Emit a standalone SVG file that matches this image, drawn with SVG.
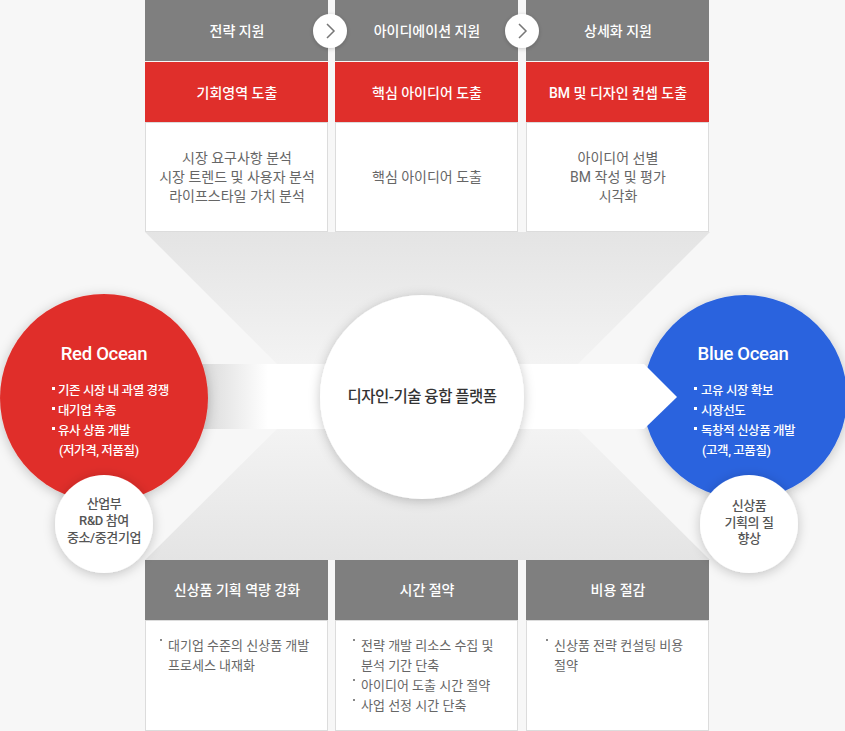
<svg xmlns="http://www.w3.org/2000/svg" width="845" height="731" viewBox="0 0 845 731">
<defs>
<style>
text{font-family:Roboto,"Noto Sans CJK KR","Liberation Sans",sans-serif;dominant-baseline:central}
.hd{fill:#fff;font-size:14px;font-weight:500;text-anchor:middle}
.rd{fill:#fff;font-size:14px;font-weight:500;text-anchor:middle}
.bd{fill:#666;font-size:14px;text-anchor:middle}
.bl{fill:#666;font-size:13px}
.ct{fill:#fff;font-size:18.5px;font-weight:500;text-anchor:middle;letter-spacing:-0.3px}
.cb{fill:#fff;font-size:12.5px;font-weight:500;letter-spacing:-0.4px}
.sm{fill:#555;font-size:13px;font-weight:500;text-anchor:middle;letter-spacing:-0.4px}
.gray{fill:#7f7f7f}
.red{fill:#e02f2b}
.wbox{fill:#fff;stroke:#dcdcdc;stroke-width:1}
.bw{fill:#fff}
.bg2{fill:#888}
</style>
<linearGradient id="funTop" x1="0" y1="232" x2="0" y2="364" gradientUnits="userSpaceOnUse">
<stop offset="0" stop-color="#e4e4e4"/><stop offset="1" stop-color="#f3f3f3"/>
</linearGradient>
<linearGradient id="funBot" x1="0" y1="429" x2="0" y2="560" gradientUnits="userSpaceOnUse">
<stop offset="0" stop-color="#f3f3f3"/><stop offset="1" stop-color="#e4e4e4"/>
</linearGradient>
<linearGradient id="band" x1="205" y1="0" x2="268" y2="0" gradientUnits="userSpaceOnUse">
<stop offset="0" stop-color="#dcdcdc"/><stop offset="1" stop-color="#ffffff"/>
</linearGradient>
<filter id="sh" x="-30%" y="-30%" width="160%" height="160%">
<feDropShadow dx="0" dy="2" stdDeviation="6" flood-color="#000" flood-opacity="0.22"/>
</filter>
<filter id="sh2" x="-30%" y="-30%" width="160%" height="160%">
<feDropShadow dx="0" dy="1" stdDeviation="2" flood-color="#000" flood-opacity="0.2"/>
</filter>
</defs>
<rect width="845" height="731" fill="#f7f7f7"/>
<g id="funnel">
<polygon points="145,232 710,232 578,364 277,364" fill="url(#funTop)"/>
<polygon points="277,429 578,429 710,560 145,560" fill="url(#funBot)"/>
<rect x="240" y="364" width="400" height="65" fill="#f3f3f3"/>
</g>
<g id="top-1">
<rect class="gray" x="145" y="0" width="183" height="61"/>
<rect class="red" x="145" y="62" width="183" height="60"/>
<rect class="wbox" x="145.5" y="122.5" width="182" height="109"/>
<text class="hd" x="237" y="31">전략 지원</text>
<text class="rd" x="237" y="93">기회영역 도출</text>
<text class="bd" x="237" y="158">시장 요구사항 분석</text>
<text class="bd" x="237" y="177">시장 트렌드 및 사용자 분석</text>
<text class="bd" x="237" y="196">라이프스타일 가치 분석</text>
</g>
<g id="top-2">
<rect class="gray" x="335" y="0" width="183" height="61"/>
<rect class="red" x="335" y="62" width="183" height="60"/>
<rect class="wbox" x="335.5" y="122.5" width="182" height="109"/>
<text class="hd" x="427" y="31">아이디에이션 지원</text>
<text class="rd" x="427" y="93">핵심 아이디어 도출</text>
<text class="bd" x="427" y="177">핵심 아이디어 도출</text>
</g>
<g id="top-3">
<rect class="gray" x="526" y="0" width="183" height="61"/>
<rect class="red" x="526" y="62" width="183" height="60"/>
<rect class="wbox" x="526.5" y="122.5" width="182" height="109"/>
<text class="hd" x="618" y="31">상세화 지원</text>
<text class="rd" x="618" y="93">BM 및 디자인 컨셉 도출</text>
<text class="bd" x="618" y="158">아이디어 선별</text>
<text class="bd" x="618" y="177">BM 작성 및 평가</text>
<text class="bd" x="618" y="196">시각화</text>
</g>
<g id="bottom-1">
<rect class="gray" x="145" y="560" width="183" height="60"/>
<rect class="wbox" x="145.5" y="620.5" width="182" height="110"/>
<text class="hd" x="237" y="590">신상품 기획 역량 강화</text>
<rect class="bg2" x="160" y="639" width="2" height="2"/>
<text class="bl" x="168" y="645">대기업 수준의 신상품 개발</text>
<text class="bl" x="168" y="665">프로세스 내재화</text>
</g>
<g id="bottom-2">
<rect class="gray" x="335" y="560" width="183" height="60"/>
<rect class="wbox" x="335.5" y="620.5" width="182" height="110"/>
<text class="hd" x="427" y="590">시간 절약</text>
<rect class="bg2" x="353" y="639" width="2" height="2"/>
<text class="bl" x="361" y="645">전략 개발 리소스 수집 및</text>
<text class="bl" x="361" y="665">분석 기간 단축</text>
<rect class="bg2" x="353" y="679" width="2" height="2"/>
<text class="bl" x="361" y="685">아이디어 도출 시간 절약</text>
<rect class="bg2" x="353" y="699" width="2" height="2"/>
<text class="bl" x="361" y="705">사업 선정 시간 단축</text>
</g>
<g id="bottom-3">
<rect class="gray" x="526" y="560" width="183" height="60"/>
<rect class="wbox" x="526.5" y="620.5" width="182" height="110"/>
<text class="hd" x="618" y="590">비용 절감</text>
<rect class="bg2" x="546" y="639" width="2" height="2"/>
<text class="bl" x="554" y="645">신상품 전략 컨설팅 비용</text>
<text class="bl" x="554" y="665">절약</text>
</g>
<g id="blue-ocean">
<circle cx="745" cy="397" r="102" fill="#2a63de" filter="url(#sh)"/>
</g>
<g id="connectors">
<polygon points="200,364 644,364 677,397 644,429 200,429" fill="url(#band)"/>
<g id="chev-1">
<circle cx="330" cy="31" r="17" fill="#fff" filter="url(#sh2)"/>
<polyline points="327,24 334,31 327,38" fill="none" stroke="#777" stroke-width="1.5"/>
</g>
<g id="chev-2">
<circle cx="522" cy="31" r="17" fill="#fff" filter="url(#sh2)"/>
<polyline points="519,24 526,31 519,38" fill="none" stroke="#777" stroke-width="1.5"/>
</g>
</g>
<g id="blue-ocean-text">
<text class="ct" x="743" y="354">Blue Ocean</text>
<rect class="bw" x="694" y="387" width="3" height="3"/>
<text class="cb" x="701" y="390">고유 시장 확보</text>
<rect class="bw" x="694" y="407" width="3" height="3"/>
<text class="cb" x="701" y="410">시장선도</text>
<rect class="bw" x="694" y="427" width="3" height="3"/>
<text class="cb" x="701" y="430">독창적 신상품 개발</text>
<text class="cb" x="702" y="450">(고객, 고품질)</text>
</g>
<g id="red-ocean">
<circle cx="104" cy="398" r="104" fill="#e02f2b" filter="url(#sh)"/>
<text class="ct" x="104" y="354">Red Ocean</text>
<rect class="bw" x="52" y="387" width="3" height="3"/>
<text class="cb" x="58" y="390">기존 시장 내 과열 경쟁</text>
<rect class="bw" x="52" y="407" width="3" height="3"/>
<text class="cb" x="58" y="410">대기업 추종</text>
<rect class="bw" x="52" y="427" width="3" height="3"/>
<text class="cb" x="58" y="430">유사 상품 개발</text>
<text class="cb" x="59" y="450">(저가격, 저품질)</text>
</g>
<g id="platform">
<circle cx="422" cy="397" r="102" fill="#fff" filter="url(#sh)"/>
<text x="422" y="397" style="fill:#333;font-size:15.5px;font-weight:500;text-anchor:middle;letter-spacing:-0.5px">디자인-기술 융합 플랫폼</text>
</g>
<g id="left-sub">
<circle cx="104" cy="524" r="49" fill="#fff" filter="url(#sh)"/>
<text class="sm" x="104" y="503">산업부</text>
<text class="sm" x="104" y="520">R&amp;D 참여</text>
<text class="sm" x="104" y="537">중소/중견기업</text>
</g>
<g id="right-sub">
<circle cx="749" cy="524" r="49" fill="#fff" filter="url(#sh)"/>
<text class="sm" x="749" y="505">신상품</text>
<text class="sm" x="749" y="522">기획의 질</text>
<text class="sm" x="749" y="538">향상</text>
</g>
</svg>
